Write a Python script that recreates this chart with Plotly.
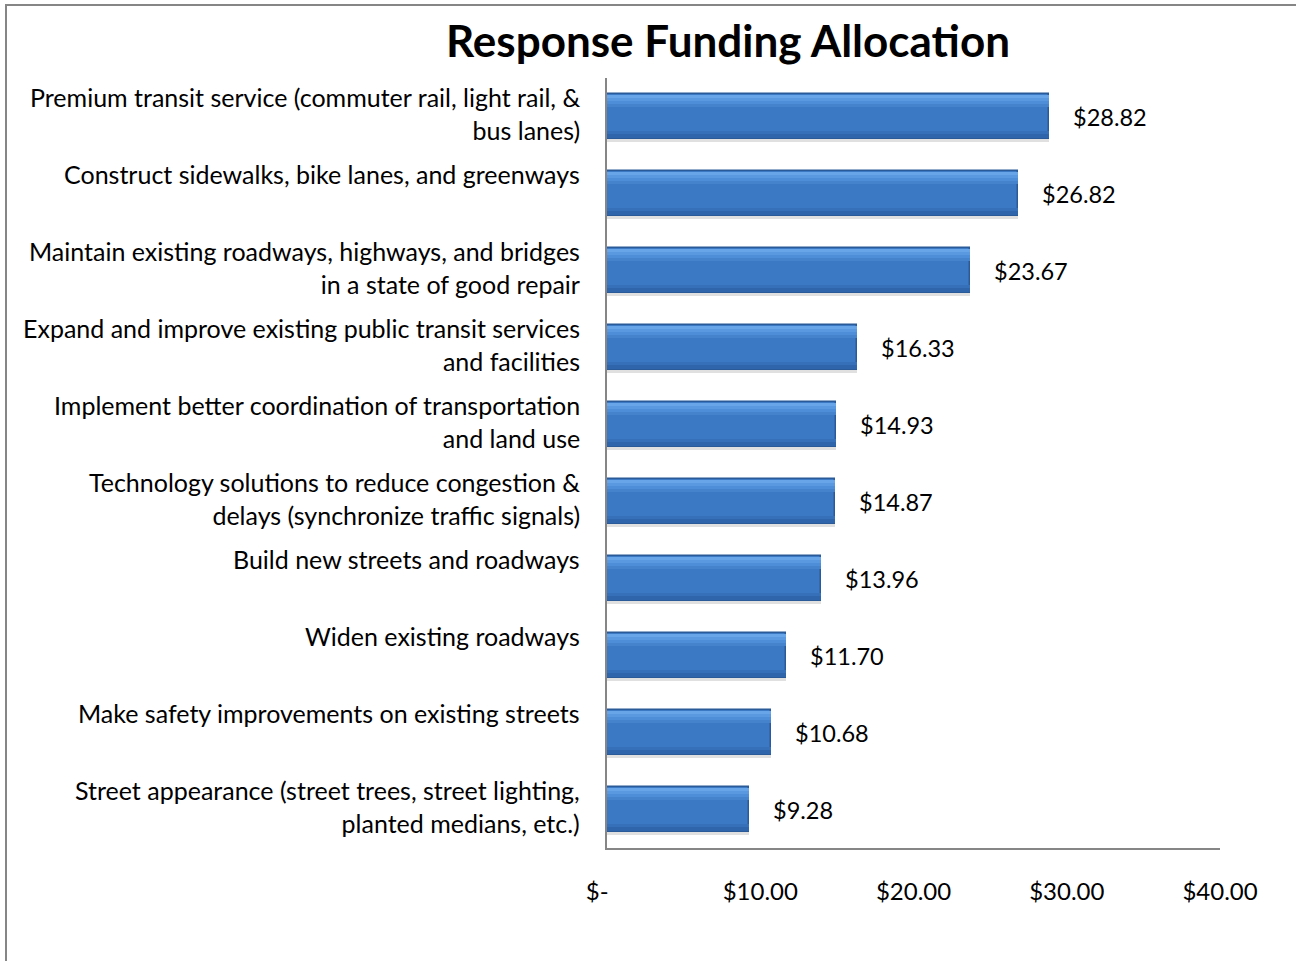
import plotly.graph_objects as go

categories = [
    "Premium transit service (commuter rail, light rail, &<br>bus lanes)",
    "Construct sidewalks, bike lanes, and greenways",
    "Maintain existing roadways, highways, and bridges<br>in a state of good repair",
    "Expand and improve existing public transit services<br>and facilities",
    "Implement better coordination of transportation<br>and land use",
    "Technology solutions to reduce congestion &<br>delays (synchronize traffic signals)",
    "Build new streets and roadways",
    "Widen existing roadways",
    "Make safety improvements on existing streets",
    "Street appearance (street trees, street lighting,<br>planted medians, etc.)",
]
values = [28.82, 26.82, 23.67, 16.33, 14.93, 14.87, 13.96, 11.70, 10.68, 9.28]
tick_vals = [0, 10, 20, 30, 40]
tick_text = ["$-<span style='color:rgba(0,0,0,0)'>0.</span>", "$10.00", "$20.00", "$30.00", "$40.00"]
title = "Response Funding Allocation"

FONT = "Lato"
W, H = 1296, 961
L, R, T, B = 607, 76, 78, 113

pos = list(range(len(categories)))
BW = 0.585
TOP = -BW / 2

fig = go.Figure()


def band(offset, width, color, line=None):
    fig.add_trace(go.Bar(x=values, y=pos, orientation="h", width=width, offset=offset,
                         marker=dict(color=color, line=line or dict(width=0)),
                         hoverinfo="skip", showlegend=False))


# soft shadow
band(TOP + 0.035, BW, "rgba(0,0,0,0.12)")
# base bar
band(TOP, BW, "#3C79C5", dict(color="#2A5A98", width=1.5))
# gradient highlight from the top
band(TOP + 0.015, 0.16, "#4583CD")
band(TOP + 0.015, 0.11, "#4E8DD7")
band(TOP + 0.015, 0.07, "#5A98E0")
band(TOP + 0.015, 0.035, "#68A5E8")
# darker bottom
band(TOP + BW - 0.10, 0.085, "#3670B8")
band(TOP + BW - 0.06, 0.045, "#2F65AA")

annotations = []
for p, c, v in zip(pos, categories, values):
    annotations.append(dict(xref="paper", yref="y", x=0, y=p, text=c, showarrow=False,
                            xanchor="right", yanchor="top", align="right", xshift=-25, yshift=37,
                            font=dict(family=FONT, size=25, color="black")))
    annotations.append(dict(xref="x", yref="y", x=v, y=p, text=f"${v:.2f}", showarrow=False,
                            xanchor="left", yanchor="middle", xshift=22,
                            font=dict(family=FONT, size=23.5, color="black")))

fig.update_layout(
    width=W, height=H, margin=dict(l=L, r=R, t=T, b=B),
    paper_bgcolor="white", plot_bgcolor="white",
    barmode="overlay", bargap=0,
    title=dict(text="<b>" + title + "</b>", x=728 / W, xref="container", xanchor="center",
               y=1 - 42 / H, yref="container", yanchor="middle",
               font=dict(family=FONT, size=44, color="black")),
    xaxis=dict(range=[0, 40], tickvals=tick_vals, ticktext=tick_text, showgrid=False,
               zeroline=False, showline=True, linecolor="#868686", linewidth=2,
               ticks="", ticklabelstandoff=21, tickfont=dict(family=FONT, size=24, color="black")),
    yaxis=dict(range=[len(categories) - 0.5, -0.5], showticklabels=False, showgrid=False,
               zeroline=False, showline=True, linecolor="#868686", linewidth=2, ticks=""),
    annotations=annotations,
    shapes=[dict(type="rect", xref="paper", yref="paper",
                 x0=(6 - L) / (W - L - R), x1=(1310 - L) / (W - L - R),
                 y0=(H - B - 975) / (H - T - B), y1=(H - B - 5) / (H - T - B),
                 line=dict(color="#868686", width=2), fillcolor="rgba(0,0,0,0)", layer="below")],
)

fig.write_html("out.html", config={"displayModeBar": False},
               post_script="document.body.style.margin='0';document.body.style.overflow='hidden';")
